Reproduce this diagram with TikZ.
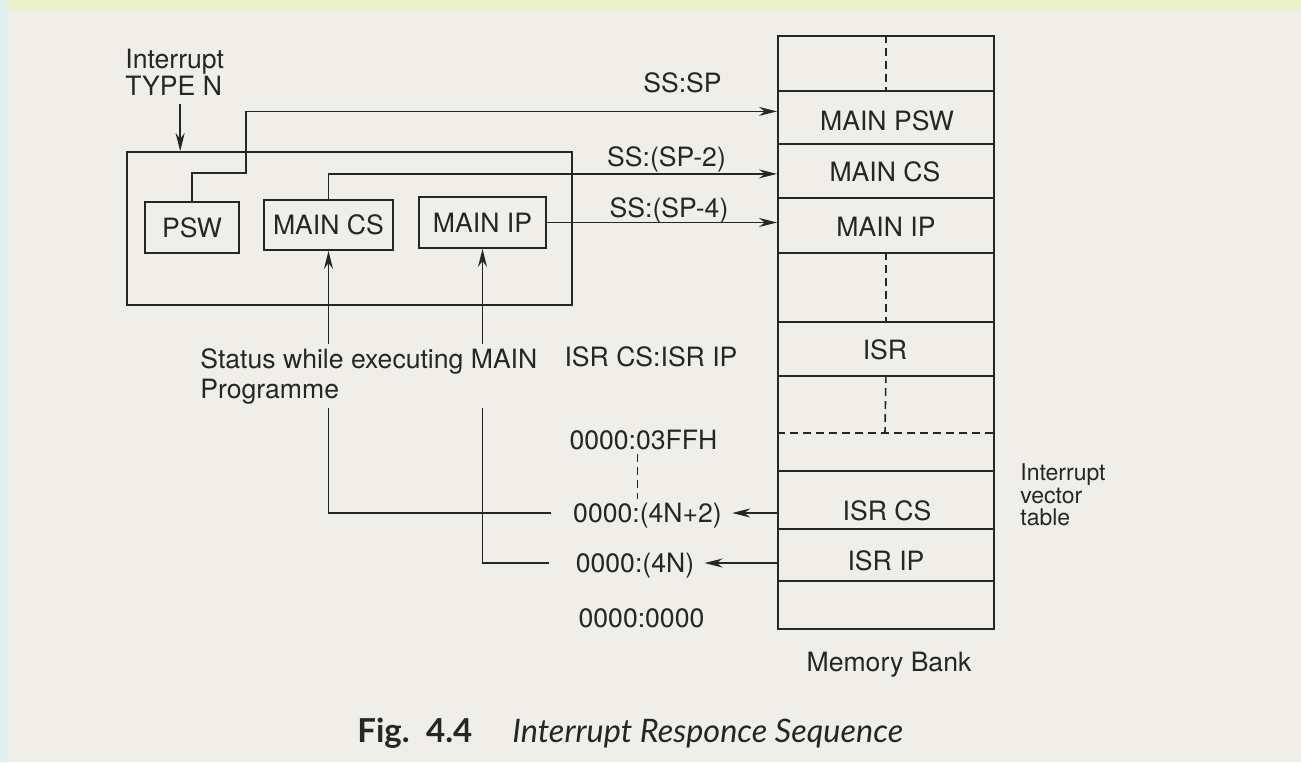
\documentclass[tikz,border=0pt]{standalone}
\usepackage{fontspec}
\setmainfont{TeX Gyre Heros}
\newfontfamily\capfont{Lato}
\usetikzlibrary{arrows.meta,calc}
\definecolor{paper}{RGB}{239,238,233}
\definecolor{ink}{RGB}{38,38,38}
\definecolor{topband}{RGB}{234,243,200}
\definecolor{leftband}{RGB}{222,241,239}
\begin{document}
\begin{tikzpicture}[x=0.5pt,y=-0.5pt,
  ln/.style={draw=ink, line width=0.9pt},
  arr/.style={ln, -{Stealth[length=9pt,width=4.5pt]}},
  lbl/.style={font=\fontsize{13.3}{15}\selectfont, text=ink, inner sep=2pt, text height=9.6pt, text depth=0pt},
  regbox/.style={lbl, draw=ink, line width=0.9pt},
  row/.style={draw=ink, line width=0.9pt, anchor=north west, minimum width=108pt, inner sep=0pt},
  dline/.style={draw=ink, line width=0.8pt, dash pattern=on 4pt off 2.5pt}]
% background
\fill[paper] (0,0) rectangle (1301,762);
\fill[topband] (0,0) rectangle (1301,10);
\fill[leftband] (0,0) rectangle (8,762);
\useasboundingbox (0,0) rectangle (1301,762);

% CPU side
\node[lbl, text height=, text depth=, align=left, font=\fontsize{13.3}{12.5}\selectfont, anchor=west] (intlbl) at (121,72.5) {Interrupt\\TYPE N};
\node[draw=ink, line width=0.9pt, minimum width=222.5pt, minimum height=76.5pt, inner sep=0pt] (cpu) at (349.5,228.5) {};
\node[regbox, minimum width=47pt, minimum height=25.5pt] (psw) at (192,227.5) {PSW};
\node[regbox, minimum width=64.5pt, minimum height=25pt] (mcs) at (328.5,225) {MAIN CS};
\node[regbox, minimum width=63.5pt, minimum height=25.5pt] (mip) at (482.5,222.5) {MAIN IP};
\draw[arr, shorten <=2pt] ([xshift=2.75pt]intlbl.south) -- ([xshift=2.75pt]intlbl.south |- cpu.north);

\node[text=ink, inner sep=2pt, align=left, font=\fontsize{13.3}{15}\selectfont, anchor=west] (status) at (196,376) {Status while executing MAIN\\Programme};

% memory bank
\node[row, minimum height=27.5pt] (r0) at (777,35) {};
\node[row, minimum height=26.5pt] (r1) at (777,90) {};
\node[row, minimum height=27pt] (r2) at (777,143) {};
\node[row, minimum height=27.5pt] (r3) at (777,197) {};
\node[row, minimum height=34.5pt] (r4) at (777,252) {};
\node[row, minimum height=27pt] (r5) at (777,321) {};
\node[row, minimum height=47.5pt] (r6) at (777,375) {};
\node[row, minimum height=29pt] (r7) at (777,470) {};
\node[row, minimum height=26pt] (r8) at (777,528) {};
\node[row, minimum height=24pt] (r9) at (777,580) {};

\node[lbl] (tpsw) at (887,121) {MAIN PSW};
\node[lbl] (tcs) at (885,172) {MAIN CS};
\node[lbl] (tip) at (886,227) {MAIN IP};
\node[lbl] (tisr) at (885,350) {ISR};
\node[lbl] (tisrcs) at (887,511) {ISR CS};
\node[lbl] (tisrip) at (886,561) {ISR IP};
\node[lbl] (membank) at (889,662) {Memory Bank};
\node[text=ink, inner sep=2pt, align=left, font=\fontsize{11.5}{11.2}\selectfont, anchor=west] (vtab) at (1016,495) {Interrupt\\vector\\table};

\draw[dline] (r0.north) -- (r0.south);
\draw[dline] (r4.north) -- (r4.south);
\coordinate (r6d) at (885,433);
\draw[dline] (r6.north) -- (r6d);
\draw[dline] (r6.west |- r6d) -- (r6.east |- r6d);

% stack addresses
\node[lbl] (sssp) at (682.5,83) {SS:SP};
\node[lbl] (ssp2) at (666.5,157) {SS:(SP-2)};
\node[lbl] (ssp4) at (669,208) {SS:(SP-4)};

\coordinate (pswbend) at (246,173);
\draw[arr] (psw.north) |- (pswbend) |- ([yshift=3pt]r1.west);
\draw[arr] (mcs.north) |- ([yshift=-1.5pt]r2.west);
\draw[arr] (mip.east) -- (mip.east -| r3.west);

% vector side
\node[lbl] (isrlbl) at (651,357) {ISR CS:ISR IP};
\node[lbl] (a3ff) at (643.5,440) {0000:03FFH};
\node[lbl] (a4n2) at (647.5,513) {0000:(4N+2)};
\node[lbl] (a4n) at (635,563) {0000:(4N)};
\node[lbl] (a0) at (641.5,618) {0000:0000};
\draw[dline] ([xshift=-3pt]a3ff.south) -- ([xshift=-3pt]a3ff.south |- a4n2.north);

\draw[arr, shorten >=3pt] (r7.west |- a4n2) -- (a4n2.east);
\draw[arr, shorten >=3pt] (r8.west |- a4n) -- (a4n.east);

% status connections
\draw[arr] (status.north -| mcs.south) -- (mcs.south);
\draw[arr] (status.north -| mip.south) -- (mip.south);
\draw[ln, shorten >=9pt] (status.south -| mcs.south) |- (a4n2.west);
\draw[ln, shorten >=11pt] (status.south -| mip.south) |- (a4n.west);

% caption
\node[text=ink, inner sep=0pt, anchor=base west, font=\capfont\bfseries\fontsize{16.5}{18}\selectfont] (figno) at (357,742) {Fig.\hspace{0.5em}4.4};
\node[text=ink, inner sep=0pt, anchor=base west, font=\capfont\itshape\fontsize{16.2}{18}\selectfont] (figtitle) at (512,742) {Interrupt Responce Sequence};
\end{tikzpicture}
\end{document}
